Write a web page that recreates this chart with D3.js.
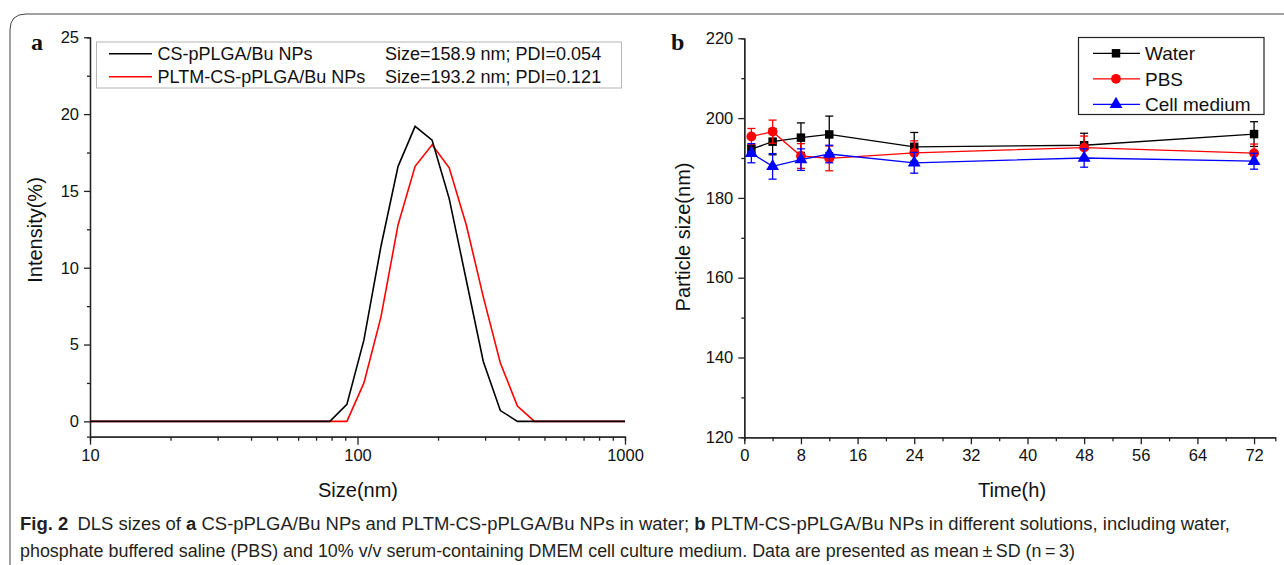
<!DOCTYPE html>
<html>
<head>
<meta charset="utf-8">
<script src="https://cdn.jsdelivr.net/npm/d3@7"></script>
<style>
  body { margin: 0; background: #fff; }
  svg { display: block; }
</style>
</head>
<body>
<div id="fig"></div>
<script>
// panel a: DLS intensity distribution
var sizes = [10, 78.82, 91.28, 105.7, 122.4, 141.8, 164.2, 190.1, 220.2, 255.0, 295.3, 342.0, 396.1, 458.7, 1000];
var csIntensity   = [0, 0, 1.1, 5.3, 11.4, 16.6, 19.2, 18.3, 14.5, 9.2, 3.9, 0.7, 0, 0, 0];
var pltmIntensity = [0, 0, 0, 2.5, 6.8, 12.8, 16.6, 18.0, 16.5, 12.8, 8.1, 3.8, 1.0, 0, 0];
var legendA = ['CS-pPLGA/Bu NPs', 'PLTM-CS-pPLGA/Bu NPs'];
var legendAInfo = ['Size=158.9 nm; PDI=0.054', 'Size=193.2 nm; PDI=0.121'];
var yTicksA = [0, 5, 10, 15, 20, 25];

// panel b: particle size over time
var times = [1, 4, 8, 12, 24, 48, 72];
var waterMean = [192.2, 194.1, 195.1, 195.9, 192.8, 193.2, 196.0];
var waterSD   = [1.0, 3.3, 3.7, 4.6, 3.6, 3.0, 3.1];
var pbsMean   = [195.4, 196.6, 190.5, 189.9, 191.3, 192.6, 191.2];
var pbsSD     = [2.0, 2.9, 3.1, 3.1, 3.0, 2.9, 2.3];
var cellMean  = [191.2, 187.9, 189.6, 191.0, 188.8, 190.0, 189.2];
var cellSD    = [2.4, 3.2, 2.7, 2.2, 2.6, 2.3, 2.0];
var seriesNames = ['Water', 'PBS', 'Cell medium'];
var xTicksB = [0, 8, 16, 24, 32, 40, 48, 56, 64, 72];
var yTicksB = [120, 140, 160, 180, 200, 220];

var W = 1284, H = 565;
var font = "'Liberation Sans', Arial, sans-serif";

var svg = d3.select('#fig').append('svg')
  .attr('width', W)
  .attr('height', H);

// figure frame
svg.append('path')
  .attr('d', 'M10,565 V30 Q10,14 26,14 H1284')
  .attr('fill', 'none')
  .attr('stroke', '#444')
  .attr('stroke-width', 1);

function styleAxis(g) {
  g.attr('font-size', null).attr('font-family', null);
  g.selectAll('path').attr('stroke', '#222').attr('stroke-width', 1.3);
  g.selectAll('line').attr('stroke', '#222').attr('stroke-width', 1.3);
  g.selectAll('text').attr('fill', '#111').style('font-size', '16.5px').style('font-family', font);
}

// ---------- panel a ----------
var xA = d3.scaleLog().domain([10, 1000]).range([90, 625]);
var yA = d3.scaleLinear().domain([-1, 25]).range([436.7, 37.3]);

var minorLog = [];
[10, 100].forEach(function(b) { for (var k = 2; k <= 9; k++) minorLog.push(b * k); });

svg.append('g')
  .attr('transform', 'translate(0,436.7)')
  .call(d3.axisBottom(xA).tickValues(minorLog).tickSize(4).tickFormat(''))
  .call(styleAxis);
svg.append('g')
  .attr('transform', 'translate(0,436.7)')
  .call(d3.axisBottom(xA).tickValues([10, 100, 1000]).tickSize(8).tickSizeOuter(0)
    .tickPadding(5).tickFormat(d3.format('d')))
  .call(styleAxis);

svg.append('g')
  .attr('transform', 'translate(90,0)')
  .call(d3.axisLeft(yA).tickValues([2.5, 7.5, 12.5, 17.5, 22.5]).tickSize(3).tickFormat(''))
  .call(styleAxis);
svg.append('g')
  .attr('transform', 'translate(90,0)')
  .call(d3.axisLeft(yA).tickValues(yTicksA).tickSize(6).tickSizeOuter(0).tickPadding(5))
  .call(styleAxis);

var lineA = d3.line()
  .x(function(d) { return xA(d[0]); })
  .y(function(d) { return yA(d[1]); });

[[pltmIntensity, '#ff0000'], [csIntensity, '#000000']].forEach(function(s) {
  svg.append('path')
    .datum(d3.zip(sizes, s[0]))
    .attr('d', lineA)
    .attr('fill', 'none')
    .attr('stroke', s[1])
    .attr('stroke-width', 1.6);
});

// legend a
var legA = svg.append('g');
legA.append('rect')
  .attr('x', 96.5).attr('y', 42).attr('width', 525).attr('height', 46)
  .attr('fill', '#fff').attr('stroke', '#b5b5b5').attr('stroke-width', 1);
legendA.forEach(function(name, i) {
  var cy = 53.7 + i * 23;
  legA.append('line')
    .attr('x1', 109).attr('x2', 152).attr('y1', cy).attr('y2', cy)
    .attr('stroke', i === 0 ? '#000' : '#ff0000').attr('stroke-width', 1.6);
  legA.append('text')
    .attr('x', 157.5).attr('y', cy + 6.5)
    .style('font-family', font).style('font-size', '18px').attr('fill', '#111')
    .text(name);
  legA.append('text')
    .attr('x', 385).attr('y', cy + 6.5)
    .style('font-family', font).style('font-size', '18px').attr('fill', '#111')
    .text(legendAInfo[i]);
});

svg.append('text')
  .attr('x', 358).attr('y', 497)
  .attr('text-anchor', 'middle')
  .style('font-family', font).style('font-size', '20px').attr('fill', '#111')
  .text('Size(nm)');
svg.append('text')
  .attr('transform', 'translate(42,230) rotate(-90)')
  .attr('text-anchor', 'middle')
  .style('font-family', font).style('font-size', '20px').attr('fill', '#111')
  .text('Intensity(%)');
svg.append('text')
  .attr('x', 31).attr('y', 50)
  .style('font-family', "'Liberation Serif', 'Times New Roman', serif")
  .style('font-weight', 'bold').style('font-size', '24px').attr('fill', '#111')
  .text('a');

// ---------- panel b ----------
var xB = d3.scaleLinear().domain([0, 75]).range([744.3, 1275.3]);
var yB = d3.scaleLinear().domain([120, 220]).range([437.3, 38.3]);

var minorB = [];
for (var t = 4; t <= 75; t += 8) minorB.push(t);

svg.append('g')
  .attr('transform', 'translate(0,437.3)')
  .call(d3.axisBottom(xB).tickValues(minorB).tickSize(4).tickFormat(''))
  .call(styleAxis);
svg.append('g')
  .attr('transform', 'translate(0,437.3)')
  .call(d3.axisBottom(xB).tickValues(xTicksB).tickSize(7).tickSizeOuter(0).tickPadding(5))
  .call(styleAxis);
svg.append('g')
  .attr('transform', 'translate(744.3,0)')
  .call(d3.axisLeft(yB).tickValues([130, 150, 170, 190, 210]).tickSize(3).tickFormat(''))
  .call(styleAxis);
svg.append('g')
  .attr('transform', 'translate(744.3,0)')
  .call(d3.axisLeft(yB).tickValues(yTicksB).tickSize(6).tickSizeOuter(0).tickPadding(5))
  .call(styleAxis);

var series = [
  { name: seriesNames[0], mean: waterMean, sd: waterSD, color: '#000000', shape: d3.symbolSquare, size: 72 },
  { name: seriesNames[1], mean: pbsMean, sd: pbsSD, color: '#ff0000', shape: d3.symbolCircle, size: 75 },
  { name: seriesNames[2], mean: cellMean, sd: cellSD, color: '#0000ff', shape: d3.symbolTriangle, size: 72 }
];

var lineB = d3.line()
  .x(function(d) { return xB(d[0]); })
  .y(function(d) { return yB(d[1]); });

series.forEach(function(s) {
  var g = svg.append('g');
  var pts = d3.zip(times, s.mean, s.sd);
  // error bars
  pts.forEach(function(p) {
    var x = xB(p[0]);
    var y1 = yB(p[1] - p[2]), y2 = yB(p[1] + p[2]);
    g.append('line').attr('x1', x).attr('x2', x).attr('y1', y1).attr('y2', y2)
      .attr('stroke', s.color).attr('stroke-width', 1.3);
    [y1, y2].forEach(function(yy) {
      g.append('line').attr('x1', x - 4).attr('x2', x + 4).attr('y1', yy).attr('y2', yy)
        .attr('stroke', s.color).attr('stroke-width', 1.3);
    });
  });
  g.append('path')
    .datum(pts)
    .attr('d', lineB)
    .attr('fill', 'none')
    .attr('stroke', s.color)
    .attr('stroke-width', 1.3);
  g.selectAll('path.mk')
    .data(pts)
    .enter()
    .append('path')
    .attr('class', 'mk')
    .attr('transform', function(d) { return 'translate(' + xB(d[0]) + ',' + yB(d[1]) + ')'; })
    .attr('d', d3.symbol().type(s.shape).size(s.size))
    .attr('fill', s.color);
});

// legend b
var legB = svg.append('g');
legB.append('rect')
  .attr('x', 1078.5).attr('y', 37.5).attr('width', 185.5).attr('height', 77)
  .attr('fill', '#fff').attr('stroke', '#222').attr('stroke-width', 1.2);
series.forEach(function(s, i) {
  var cy = 53.3 + i * 25.5;
  legB.append('line')
    .attr('x1', 1093).attr('x2', 1140).attr('y1', cy).attr('y2', cy)
    .attr('stroke', s.color).attr('stroke-width', 1.3);
  legB.append('path')
    .attr('transform', 'translate(1116,' + cy + ')')
    .attr('d', d3.symbol().type(s.shape).size(s.size))
    .attr('fill', s.color);
  legB.append('text')
    .attr('x', 1145).attr('y', cy + 7)
    .style('font-family', font).style('font-size', '19px').attr('fill', '#111')
    .text(s.name);
});

svg.append('text')
  .attr('x', 1012).attr('y', 497)
  .attr('text-anchor', 'middle')
  .style('font-family', font).style('font-size', '20px').attr('fill', '#111')
  .text('Time(h)');
svg.append('text')
  .attr('transform', 'translate(690,237) rotate(-90)')
  .attr('text-anchor', 'middle')
  .style('font-family', font).style('font-size', '20px').attr('fill', '#111')
  .text('Particle size(nm)');
svg.append('text')
  .attr('x', 671).attr('y', 50)
  .style('font-family', "'Liberation Serif', 'Times New Roman', serif")
  .style('font-weight', 'bold').style('font-size', '24px').attr('fill', '#111')
  .text('b');

// ---------- caption ----------
var capFont = "'Liberation Sans Narrow', 'Liberation Sans', sans-serif";
var cap1 = svg.append('text')
  .attr('x', 20).attr('y', 530)
  .attr('textLength', 1210).attr('lengthAdjust', 'spacingAndGlyphs')
  .style('font-family', capFont).style('font-size', '17.5px').attr('fill', '#231f20');
cap1.append('tspan').style('font-weight', 'bold').text('Fig. 2');
cap1.append('tspan').text('\u2002DLS sizes of ');
cap1.append('tspan').style('font-weight', 'bold').text('a');
cap1.append('tspan').text(' CS-pPLGA/Bu NPs and PLTM-CS-pPLGA/Bu NPs in water; ');
cap1.append('tspan').style('font-weight', 'bold').text('b');
cap1.append('tspan').text(' PLTM-CS-pPLGA/Bu NPs in different solutions, including water,');

svg.append('text')
  .attr('x', 20).attr('y', 557)
  .attr('textLength', 1055).attr('lengthAdjust', 'spacingAndGlyphs')
  .style('font-family', capFont).style('font-size', '17.5px').attr('fill', '#231f20')
  .text('phosphate buffered saline (PBS) and 10% v/v serum-containing DMEM cell culture medium. Data are presented as mean\u2009\u00b1\u2009SD (n\u2009=\u20093)');
</script>
</body>
</html>
